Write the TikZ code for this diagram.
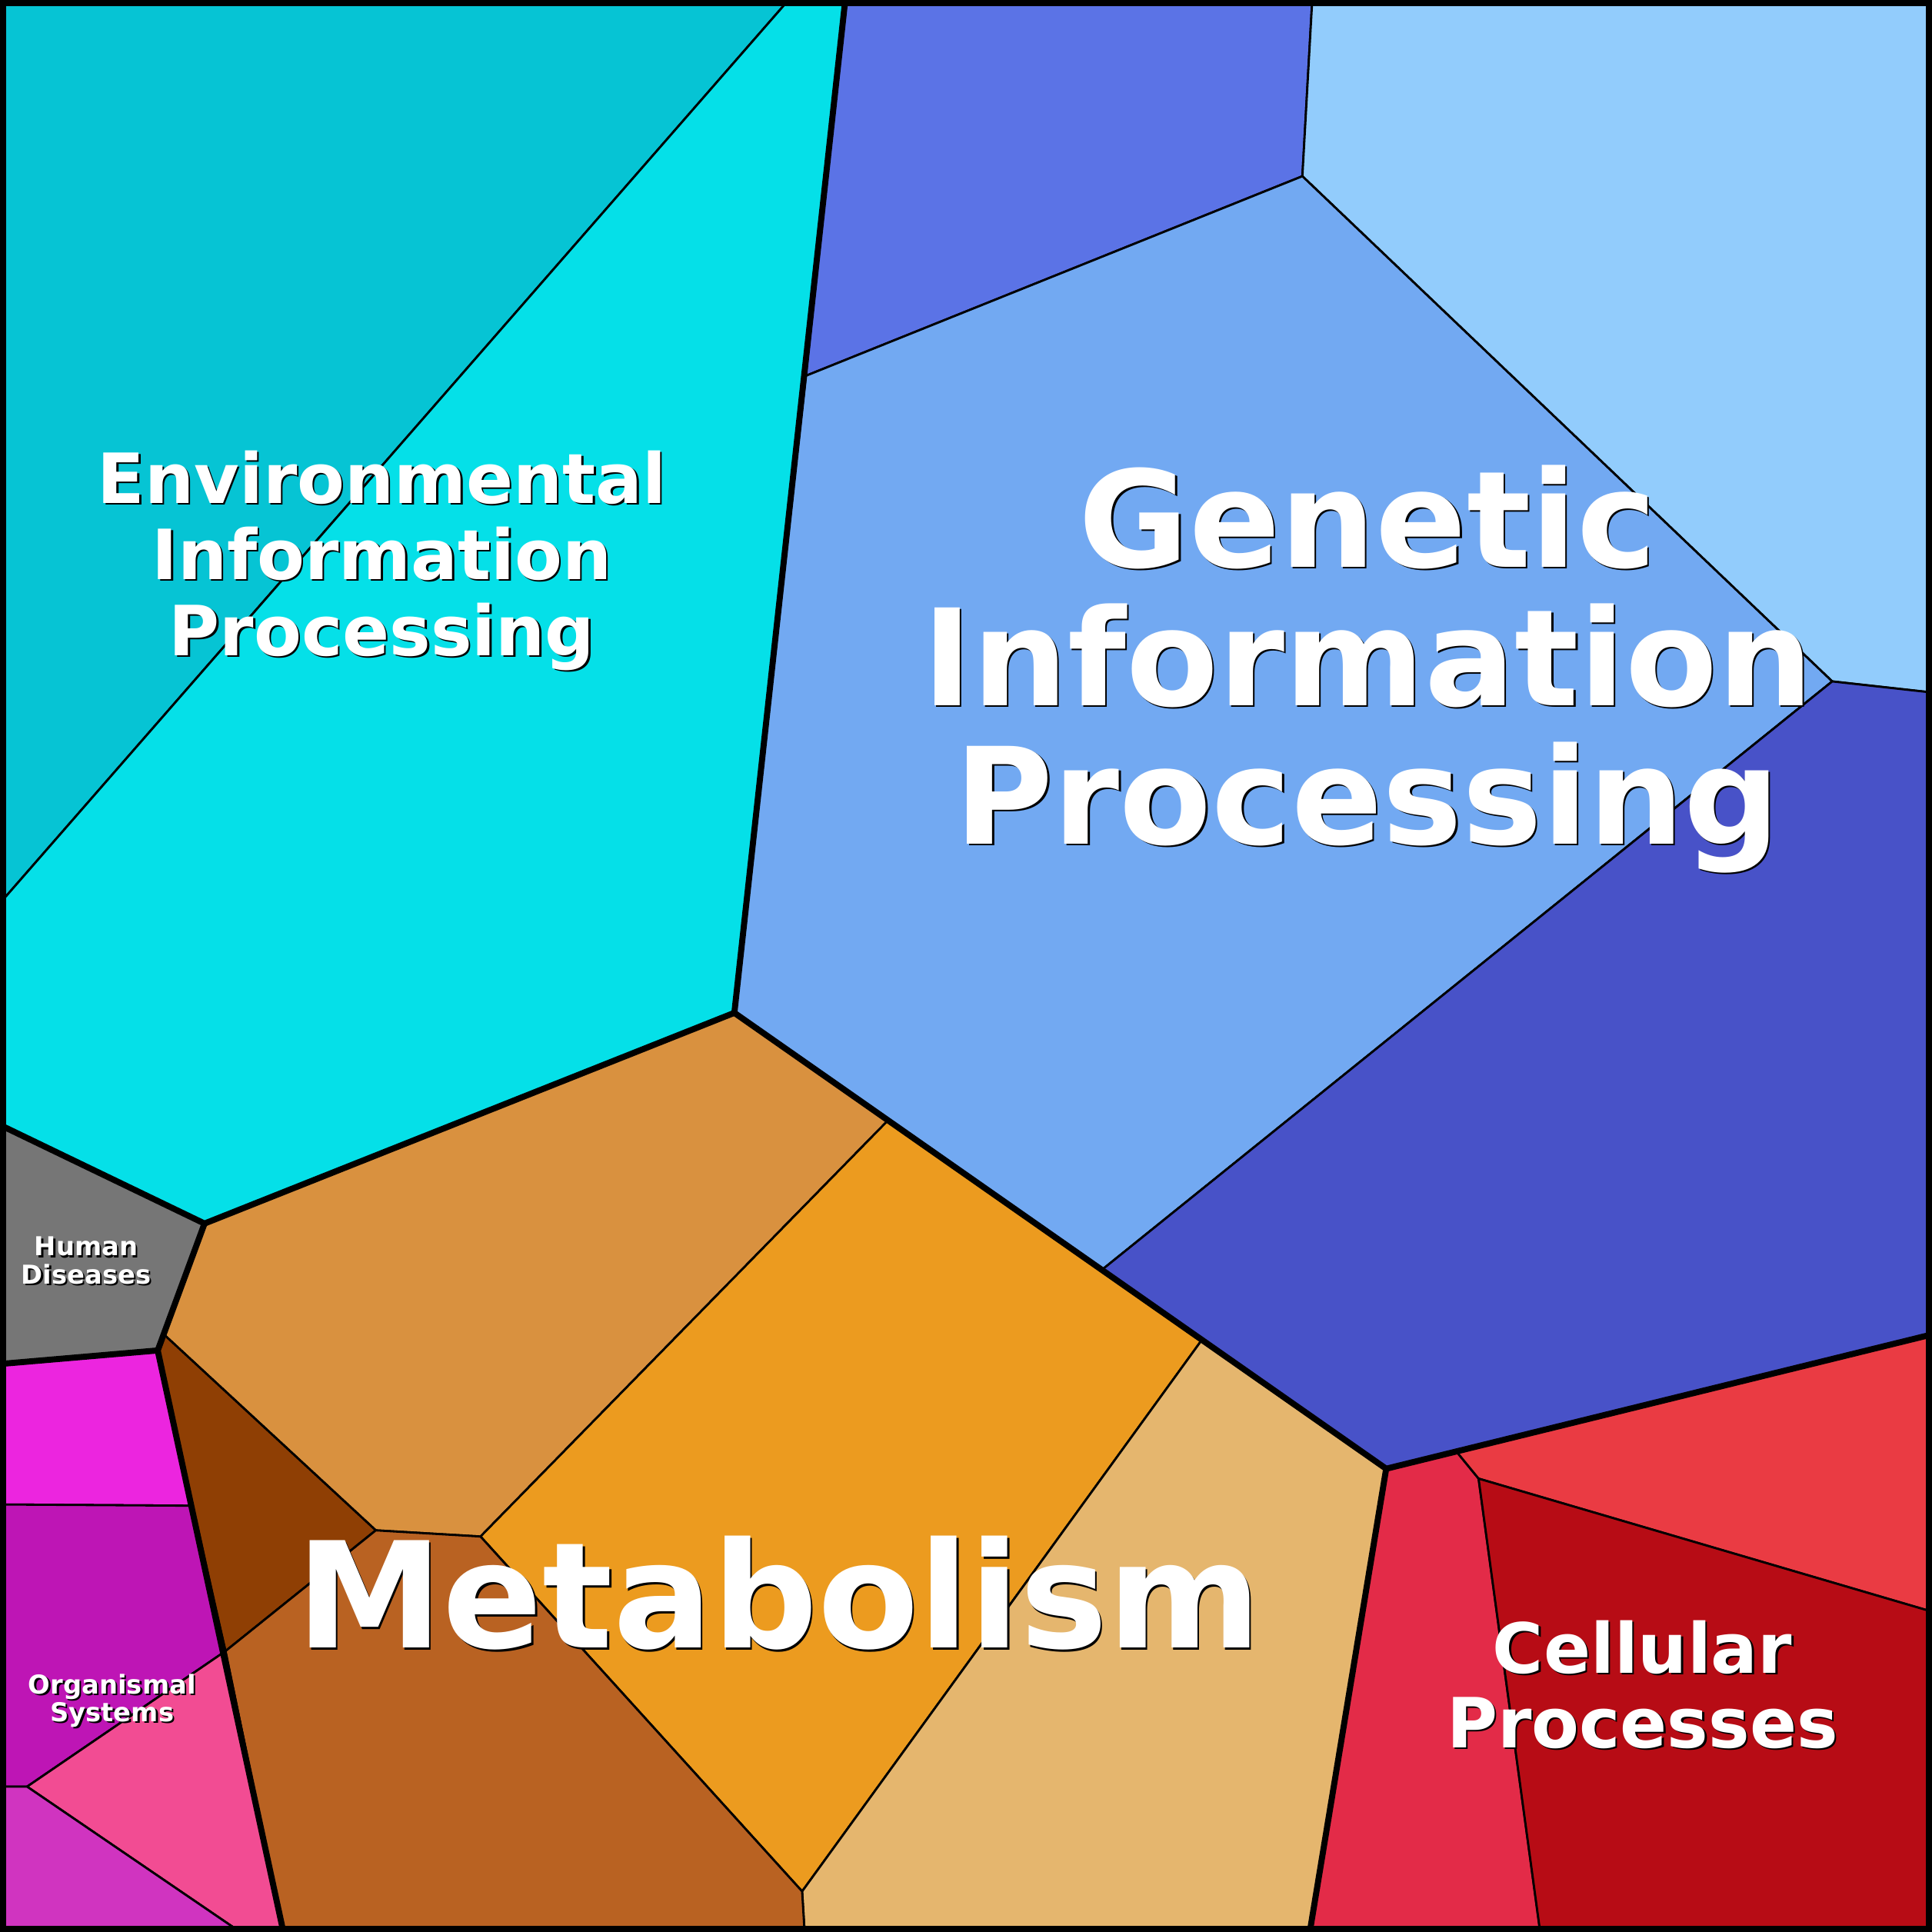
\documentclass[tikz,border=0pt]{standalone}
\usepackage{fontspec}
\setmainfont{DejaVu Sans}
\definecolor{envA}{HTML}{06C4D4}
\definecolor{envB}{HTML}{05E0E8}
\definecolor{genA}{HTML}{5B73E6}
\definecolor{genB}{HTML}{92CCFC}
\definecolor{genC}{HTML}{72A9F2}
\definecolor{genD}{HTML}{4852C8}
\definecolor{metA}{HTML}{D9913F}
\definecolor{metB}{HTML}{EC9B1F}
\definecolor{metC}{HTML}{E5B66E}
\definecolor{metD}{HTML}{8F3F04}
\definecolor{metE}{HTML}{B96222}
\definecolor{humA}{HTML}{767676}
\definecolor{orgA}{HTML}{EC25DF}
\definecolor{orgB}{HTML}{BE15B5}
\definecolor{orgC}{HTML}{F24C93}
\definecolor{orgD}{HTML}{D034C0}
\definecolor{celA}{HTML}{E32B48}
\definecolor{celB}{HTML}{EA3B43}
\definecolor{celC}{HTML}{B70C15}
\tikzset{
  cell/.style={draw=black, line width=0.5pt, line join=round},
  group/.style={draw=black, line width=1.4pt, line join=round},
  lbl/.style={text=white, font=\bfseries, align=center},
  shd/.style={text=black, font=\bfseries, align=center}
}
\newcommand{\lbltxt}[4]{% position, size, skip, text
  \node[shd, font=\fontsize{#2}{#3}\selectfont\bfseries] at ([shift={(1.5,1.5)}]#1) {#4};
  \node[lbl, font=\fontsize{#2}{#3}\selectfont\bfseries] at (#1) {#4};
}
\begin{document}
\begin{tikzpicture}[x=0.1mm, y=-0.1mm]
  \useasboundingbox (0,0) rectangle (1568,1568);
  % environmental
  \filldraw[cell, fill=envA] (0,0) -- (640,0) -- (0,733) -- cycle;
  \filldraw[cell, fill=envB] (640,0) -- (686,0) -- (596,822) -- (166,993) -- (0,913) -- (0,733) -- cycle;
  % genetic
  \filldraw[cell, fill=genA] (686,0) -- (1065,0) -- (1057,143) -- (654,305) -- cycle;
  \filldraw[cell, fill=genB] (1065,0) -- (1568,0) -- (1568,562) -- (1487,553) -- (1057,143) -- cycle;
  \filldraw[cell, fill=genC] (654,305) -- (1057,143) -- (1487,553) -- (895,1030) -- (596,822) -- cycle;
  \filldraw[cell, fill=genD] (1487,553) -- (1568,562) -- (1568,1083) -- (1125,1192) -- (895,1030) -- cycle;
  % metabolism
  \filldraw[cell, fill=metA] (166,993) -- (596,822) -- (720,910) -- (390,1247) -- (305,1242) -- (133,1083) -- cycle;
  \filldraw[cell, fill=metB] (720,910) -- (975,1088) -- (651,1535) -- (390,1247) -- cycle;
  \filldraw[cell, fill=metC] (975,1088) -- (1125,1192) -- (1063,1568) -- (653,1568) -- (651,1535) -- cycle;
  \filldraw[cell, fill=metD] (133,1083) -- (305,1242) -- (183,1340) -- (128,1096) -- cycle;
  \filldraw[cell, fill=metE] (305,1242) -- (390,1247) -- (651,1535) -- (653,1568) -- (230,1568) -- (183,1340) -- cycle;
  % human diseases
  \filldraw[cell, fill=humA] (0,913) -- (166,993) -- (128,1096) -- (0,1107) -- cycle;
  % organismal systems
  \filldraw[cell, fill=orgA] (0,1107) -- (128,1096) -- (155,1222) -- (0,1221) -- cycle;
  \filldraw[cell, fill=orgB] (0,1221) -- (155,1222) -- (183,1340) -- (22,1450) -- (0,1450) -- cycle;
  \filldraw[cell, fill=orgC] (22,1450) -- (183,1340) -- (230,1568) -- (195,1568) -- cycle;
  \filldraw[cell, fill=orgD] (0,1450) -- (22,1450) -- (195,1568) -- (0,1568) -- cycle;
  % cellular processes
  \filldraw[cell, fill=celA] (1125,1192) -- (1182,1178) -- (1200,1200) -- (1250,1568) -- (1063,1568) -- cycle;
  \filldraw[cell, fill=celB] (1182,1178) -- (1568,1083) -- (1568,1308) -- (1200,1200) -- cycle;
  \filldraw[cell, fill=celC] (1200,1200) -- (1568,1308) -- (1568,1568) -- (1250,1568) -- cycle;
  % group borders
  \draw[group] (686,0) -- (596,822) -- (166,993) -- (0,913);
  \draw[group] (596,822) -- (1125,1192) -- (1568,1083);
  \draw[group] (1125,1192) -- (1063,1568);
  \draw[group] (166,993) -- (128,1096) -- (0,1107);
  \draw[group] (128,1096) -- (230,1568);
  \draw[line width=3pt] (0,0) rectangle (1568,1568);
  % labels
  \lbltxt{310,455}{16}{17.6}{Environmental\\Information\\Processing}
  \lbltxt{1110,543}{31}{32}{Genetic\\Information\\Processing}
  \lbltxt{632,1293}{34}{36}{Metabolism}
  \lbltxt{1333,1367}{16}{17.2}{Cellular\\Processes}
  \lbltxt{70,1023}{6}{6.4}{Human\\Diseases}
  \lbltxt{91,1380}{6}{6.4}{Organismal\\Systems}
\end{tikzpicture}
\end{document}
